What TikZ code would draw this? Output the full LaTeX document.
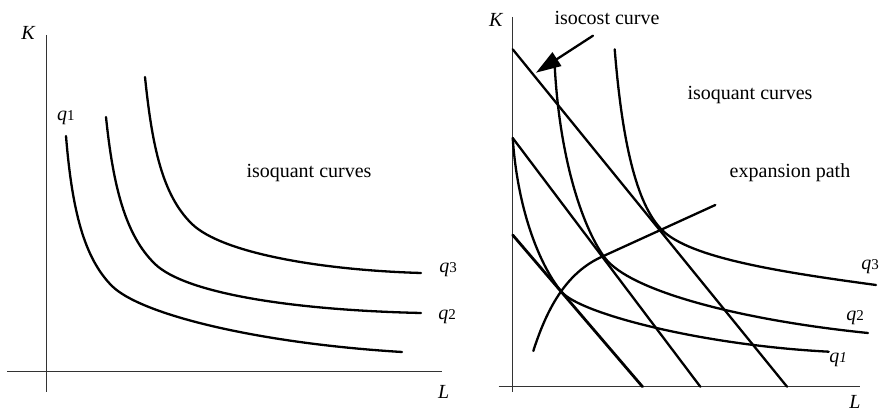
\documentclass[tikz,border=0pt]{standalone}
\usepackage{fontspec}
\setmainfont{Liberation Serif}
\usetikzlibrary{arrows.meta}
\newcommand{\qlab}[1]{{\itshape q}{\fontsize{7.5}{9}\selectfont #1}}
\newcommand{\qlabit}[1]{{\itshape q}{\fontsize{7.5}{9}\selectfont\itshape #1}}
\begin{document}
\begin{tikzpicture}[x=0.5pt,y=-0.5pt,
  axis/.style={draw=black!80,line width=0.65pt},
  curve/.style={draw=black,line width=1.15pt,line cap=round},
  lbl/.style={font=\fontsize{10}{12}\selectfont,inner sep=0pt},
  ]
\useasboundingbox (0,0) rectangle (884,410);
% ---------- left panel ----------
\coordinate (LKtop) at (46.7,35);
\coordinate (LKbot) at (46.7,392);
\coordinate (LLl) at (7,371.7);
\coordinate (LLr) at (441.7,371.7);
\draw[axis] (LKtop) -- (LKbot);
\draw[axis] (LLl) -- (LLr);
\node[lbl] (LK) at (28,33) {\itshape K};
\node[lbl] (LL) at (443.7,392) {\itshape L};
\draw[curve] (66,136) .. controls (72,210) and (84,258) .. (112,286)
             .. controls (140,314) and (255,343) .. (402,352);
\draw[curve] (106,117) .. controls (113,185) and (125,235) .. (155,264)
             .. controls (185,293) and (290,310) .. (421,313);
\draw[curve] (145,77) .. controls (152,145) and (162,195) .. (192,224)
             .. controls (222,253) and (320,270) .. (421,273);
\node[lbl] (Lq1) at (66,118) {\qlab{1}};
\node[lbl] (Lq3) at (448,270) {\qlab{3}};
\node[lbl] (Lq2) at (447,316.7) {\qlab{2}};
\node[lbl] (Liso) at (309,173) {isoquant curves};
% ---------- right panel ----------
\coordinate (RKtop) at (512.7,17);
\coordinate (RKbot) at (512.7,392);
\coordinate (RLl) at (498.7,386.7);
\coordinate (RLr) at (860,386.7);
\draw[axis] (RKtop) -- (RKbot);
\draw[axis] (RLl) -- (RLr);
\node[lbl] (RK) at (495.7,20) {\itshape K};
\node[lbl] (RL) at (855,402) {\itshape L};
% isocost lines
\coordinate (c1a) at (512.7,49.3);
\coordinate (c1b) at (787,386.7);
\coordinate (c2a) at (512.7,138);
\coordinate (c2b) at (700.3,386.7);
\coordinate (c3a) at (512.7,235);
\coordinate (c3b) at (642.5,386.7);
\draw[curve] (c1a) -- (c1b);
\draw[curve] (c2a) -- (c2b);
\draw[curve,line width=1.4pt] (c3a) -- (c3b);
% isoquants
\draw[curve] (614.7,49.3) .. controls (622,140) and (636,204) .. (662,230)
             .. controls (690,258) and (780,272) .. (876,285);
\draw[curve] (554.7,66) .. controls (560,165) and (585,231.5) .. (605,258)
             .. controls (630,291) and (740,320) .. (868,333);
\draw[curve] (512.7,138) .. controls (518,215) and (542,268.6) .. (561.7,292)
             .. controls (580,313.4) and (700,345) .. (828.7,351.7);
% expansion path
\draw[curve] (533.3,351) .. controls (548,305) and (568,272) .. (602,256.7) -- (715.3,205);
% arrow
\coordinate (arrS) at (593,35.7);
\coordinate (arrE) at (536,72.7);
\draw[curve,-{Triangle[length=12.5pt,width=8pt]}] (arrS) -- (arrE);
\node[lbl] (Rcost) at (607,18) {isocost curve};
\node[lbl] (Riso) at (750,95) {isoquant curves};
\node[lbl] (Rexp) at (790,173) {expansion path};
\node[lbl] (Rq3) at (870,267) {\qlab{3}};
\node[lbl] (Rq2) at (855,318) {\qlab{2}};
\node[lbl] (Rq1) at (838,360) {\qlabit{1}};
\end{tikzpicture}
\end{document}
